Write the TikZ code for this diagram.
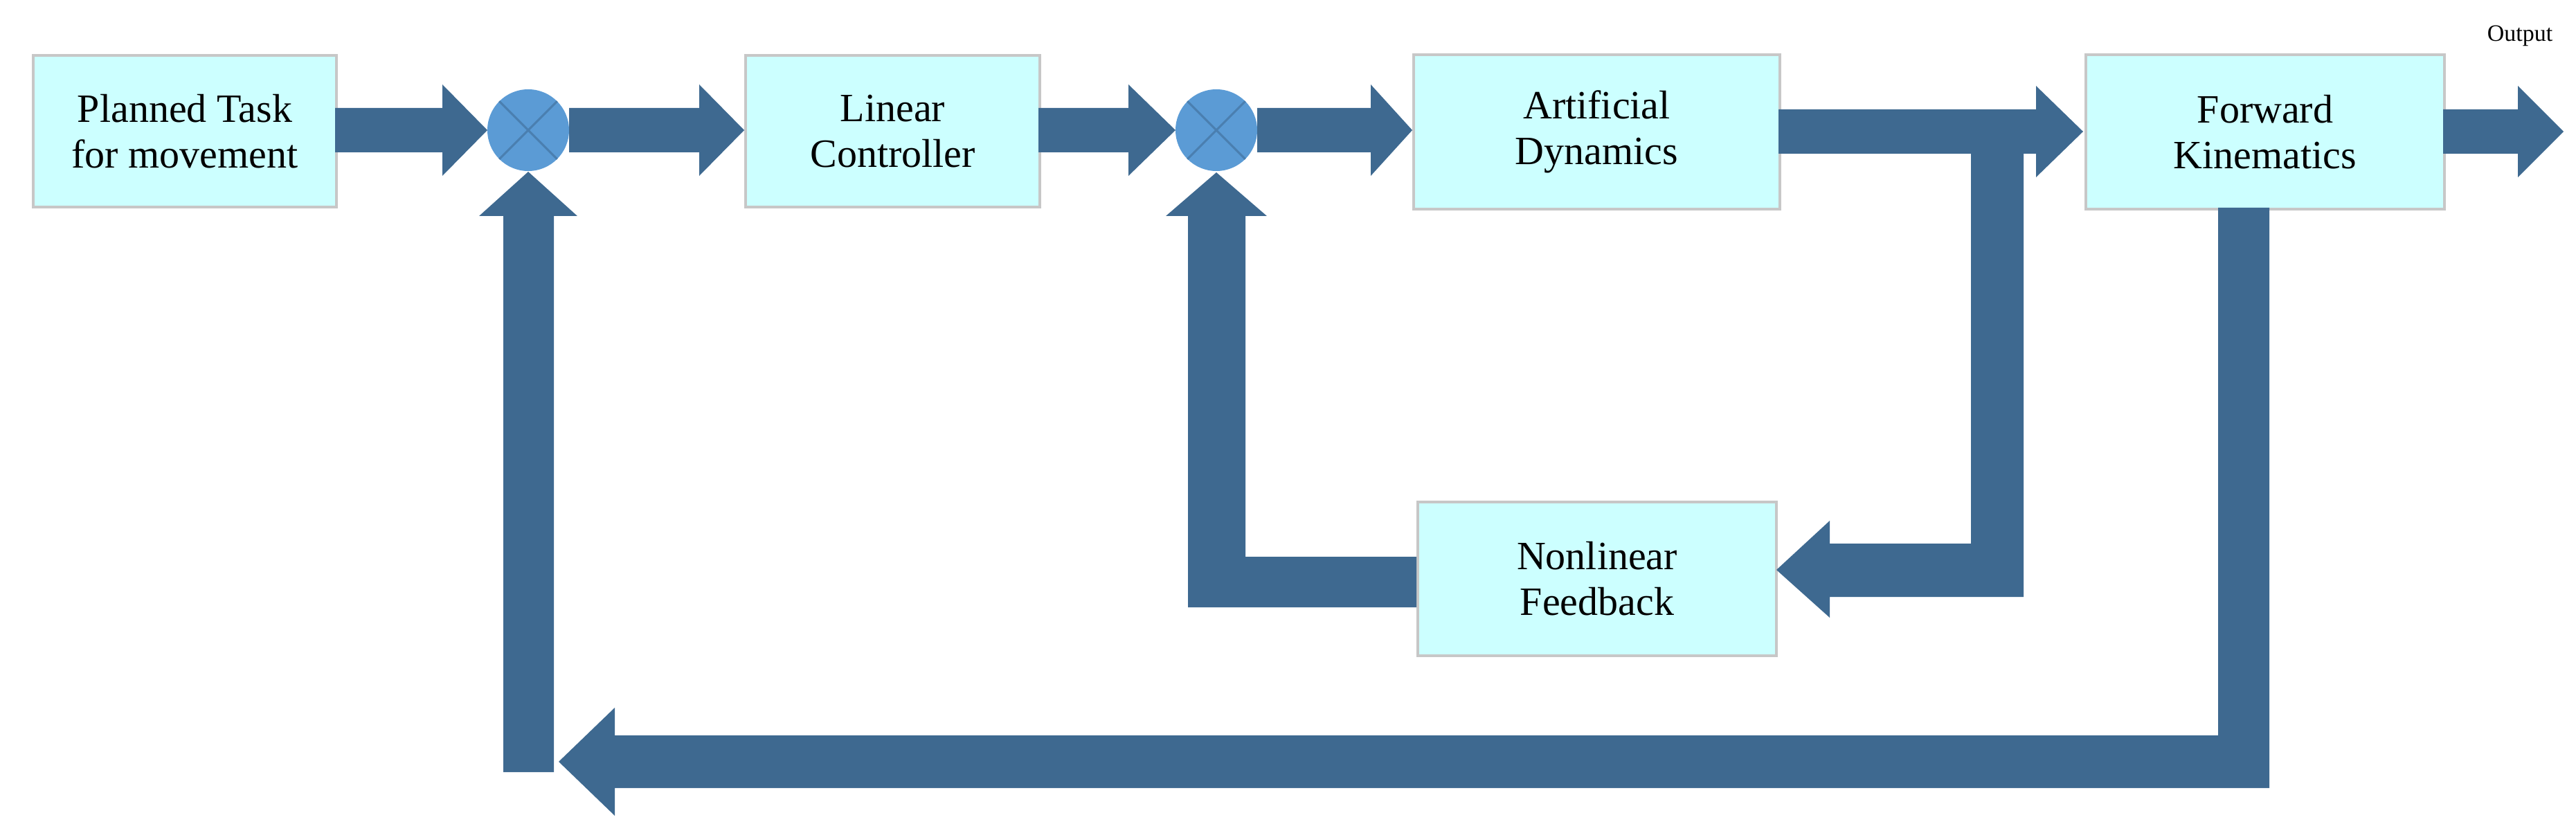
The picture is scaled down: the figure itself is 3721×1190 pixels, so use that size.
\documentclass[tikz,border=0pt]{standalone}
\usepackage{fontspec}
\setmainfont{Liberation Serif}
\definecolor{arr}{HTML}{3E6990}
\definecolor{sumc}{HTML}{5B9BD5}
\definecolor{sumx}{HTML}{4A7FB0}
\definecolor{boxf}{HTML}{CCFFFF}
\tikzset{x=1pt,y=-1pt,
 blk/.style={draw=black!22,line width=4pt,fill=boxf,anchor=north west,inner sep=0pt,align=center,
   font=\fontsize{58}{66}\selectfont},
 fat/.style={fill=arr,draw=none},
 sumj/.style={circle,fill=sumc,minimum size=118pt,inner sep=0pt}}
\newcommand{\fatR}[4]{\fill[arr] (#1,#4-32)--(#2,#4-32)--(#2,#4-66)--(#3,#4)--(#2,#4+66)--(#2,#4+32)--(#1,#4+32)--cycle;}
\begin{document}
\begin{tikzpicture}
\useasboundingbox (0,0) rectangle (3721,1190);
\node[blk,minimum width=438pt,minimum height=219pt] (pt) at (46,78) {Planned Task\\for movement};
\node[blk,minimum width=425pt,minimum height=219pt] (lc) at (1075,78) {Linear\\Controller};
\node[blk,minimum width=529pt,minimum height=223pt] (ad) at (2040,77) {Artificial\\Dynamics};
\node[blk,minimum width=518pt,minimum height=223pt] (fk) at (3011,77) {Forward\\Kinematics};
\node[blk,minimum width=518pt,minimum height=222pt] (nl) at (2046,723) {Nonlinear\\Feedback};
\node[sumj] (s1) at (763,188) {};
\node[sumj] (s2) at (1757,188) {};
\foreach \s in {s1,s2}{
 \draw[sumx,line width=3pt] (\s.north west)--(\s.south east) (\s.north east)--(\s.south west);}
\node[anchor=center,font=\fontsize{34}{40}\selectfont] (out) at (3640,52) {Output};
% forward arrows
\fatR{484}{639}{704}{188}
\fatR{822}{1010}{1075}{188}
\fatR{1500}{1630}{1698}{188}
\fatR{1816}{1980}{2040}{188}
\fatR{2569}{2941}{3009}{190}
\fatR{3529}{3637}{3703}{190}
% branch to nonlinear feedback
\fill[arr] (2847,222)--(2923,222)--(2923,862)--(2643,862)--(2643,892)--(2566,823)--(2643,752)--(2643,785)--(2847,785)--cycle;
% nonlinear feedback to s2
\fill[arr] (2046,804)--(1799,804)--(1799,312)--(1830,312)--(1757,249)--(1684,312)--(1716,312)--(1716,877)--(2046,877)--cycle;
% forward kinematics feedback
\fill[arr] (3204,300)--(3278,300)--(3278,1138)--(888,1138)--(888,1178)--(807,1100)--(888,1022)--(888,1062)--(3204,1062)--cycle;
% up arrow to s1
\fill[arr] (727,1115)--(727,312)--(692,312)--(763,248)--(834,312)--(800,312)--(800,1115)--cycle;
\end{tikzpicture}
\end{document}
